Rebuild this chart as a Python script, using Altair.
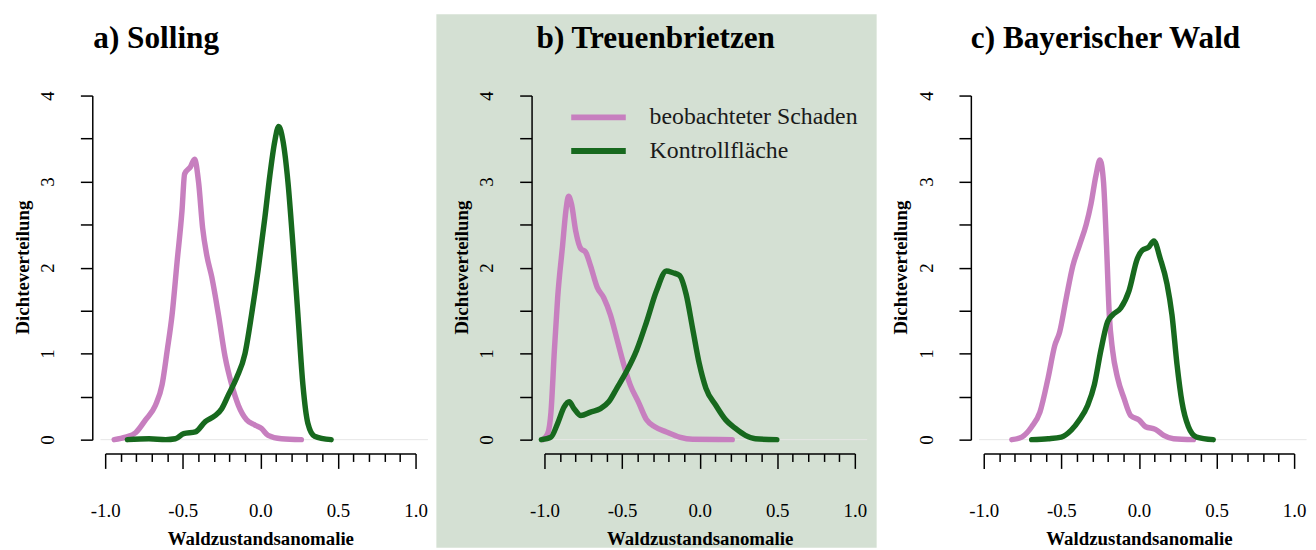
import altair as alt
import pandas as pd

FONT = "Liberation Serif"
PINK = "#c77fbf"
GREEN = "#17691e"
BG_B = "#d4e0d3"

panel_titles = ["a) Solling", "b) Treuenbrietzen", "c) Bayerischer Wald"]
series_names = ["beobachteter Schaden", "Kontrollfläche"]
x_title = "Waldzustandsanomalie"
y_title = "Dichteverteilung"

# a) Solling
a_schaden_x = [-0.942, -0.868, -0.804, -0.74, -0.676, -0.633, -0.60, -0.569, -0.537, -0.505, -0.488,
               -0.451, -0.424, -0.398, -0.372, -0.345, -0.313, -0.27, -0.227, -0.185, -0.142, -0.089,
               -0.035, 0.007, 0.05, 0.136, 0.264]
a_schaden_y = [0.0, 0.03, 0.08, 0.23, 0.40, 0.64, 1.04, 1.45, 2.06, 2.66, 3.09,
               3.17, 3.26, 2.99, 2.46, 2.14, 1.89, 1.45, 0.96, 0.64, 0.40, 0.23,
               0.17, 0.13, 0.05, 0.01, 0.0]
a_kontroll_x = [-0.857, -0.718, -0.61, -0.547, -0.494, -0.419, -0.355, -0.291, -0.249, -0.206, -0.153,
                -0.099, -0.057, -0.014, 0.029, 0.061, 0.093, 0.118, 0.146, 0.178, 0.21, 0.242,
                0.274, 0.306, 0.349, 0.456]
a_kontroll_y = [0.0, 0.01, 0.0, 0.01, 0.07, 0.09, 0.21, 0.28, 0.36, 0.52, 0.72,
                1.0, 1.45, 1.98, 2.58, 3.07, 3.47, 3.64, 3.47, 2.99, 2.26, 1.45,
                0.64, 0.19, 0.04, 0.0]

# b) Treuenbrietzen
b_schaden_x = [-1.01, -0.979, -0.958, -0.936, -0.915, -0.883, -0.862, -0.845, -0.826, -0.798, -0.766,
               -0.735, -0.703, -0.66, -0.618, -0.575, -0.533, -0.49, -0.448, -0.395, -0.342, -0.289,
               -0.214, -0.13, -0.045, 0.21]
b_schaden_y = [0.0, 0.07, 0.32, 1.04, 1.65, 2.26, 2.66, 2.83, 2.74, 2.42, 2.22,
               2.18, 2.02, 1.77, 1.65, 1.45, 1.17, 0.88, 0.64, 0.44, 0.23, 0.15,
               0.09, 0.03, 0.004, 0.0]
b_kontroll_x = [-1.02, -0.958, -0.915, -0.873, -0.841, -0.809, -0.766, -0.703, -0.639, -0.586, -0.533,
                -0.469, -0.406, -0.342, -0.278, -0.214, -0.172, -0.13, -0.087, -0.045, -0.002, 0.04,
                0.104, 0.168, 0.231, 0.295, 0.359, 0.497]
b_kontroll_y = [0.0, 0.03, 0.19, 0.38, 0.44, 0.36, 0.28, 0.32, 0.36, 0.44, 0.60,
                0.80, 1.04, 1.37, 1.73, 1.96, 1.94, 1.91, 1.69, 1.29, 0.88, 0.60,
                0.40, 0.23, 0.13, 0.05, 0.01, 0.0]

# c) Bayerischer Wald
c_schaden_x = [-0.819, -0.755, -0.691, -0.638, -0.585, -0.543, -0.511, -0.468, -0.426, -0.383, -0.34,
               -0.309, -0.277, -0.251, -0.228, -0.209, -0.191, -0.17, -0.138, -0.096, -0.053, 0.0,
               0.043, 0.106, 0.16, 0.223, 0.351]
c_schaden_y = [0.0, 0.03, 0.15, 0.32, 0.72, 1.09, 1.25, 1.65, 2.02, 2.26, 2.5,
               2.74, 3.07, 3.25, 2.99, 2.26, 1.45, 1.04, 0.72, 0.48, 0.28, 0.23,
               0.15, 0.12, 0.05, 0.01, 0.0]
c_kontroll_x = [-0.691, -0.585, -0.5, -0.436, -0.383, -0.33, -0.287, -0.245, -0.202, -0.17, -0.117,
                -0.064, -0.011, 0.021, 0.064, 0.096, 0.138, 0.181, 0.213, 0.245, 0.277, 0.319,
                0.372, 0.479]
c_kontroll_y = [0.0, 0.01, 0.03, 0.11, 0.23, 0.40, 0.64, 1.04, 1.37, 1.45, 1.53,
                1.73, 2.1, 2.2, 2.24, 2.31, 2.1, 1.81, 1.45, 0.88, 0.44, 0.15,
                0.03, 0.0]

y_ticks = [0, 0.5, 1, 1.5, 2, 2.5, 3, 3.5, 4]
x_ticks = [-1.0, -0.9, -0.8, -0.7, -0.6, -0.5, -0.4, -0.3, -0.2, -0.1, 0.0,
           0.1, 0.2, 0.3, 0.4, 0.5, 0.6, 0.7, 0.8, 0.9, 1.0]

MAJOR = "abs(datum.value*2 - round(datum.value*2)) < 0.01"
W, H = 313, 347


def make_df(sx, sy, kx, ky):
    rows = []
    for i, (x, y) in enumerate(zip(sx, sy)):
        rows.append({"x": x, "y": y, "serie": series_names[0], "o": i})
    for i, (x, y) in enumerate(zip(kx, ky)):
        rows.append({"x": x, "y": y, "serie": series_names[1], "o": i})
    return pd.DataFrame(rows)


one = pd.DataFrame({"k": [0]})

x_axis = alt.Axis(
    values=x_ticks, orient="bottom", offset=14,
    tickSize={"condition": {"test": MAJOR, "value": 15}, "value": 8},
    tickWidth=1.5, tickColor="black", domainColor="black", domainWidth=1.5,
    labelExpr=MAJOR + " ? ((datum.value < 0 ? '-' : '') + format(abs(datum.value), '.1f')) : ''",
    labelPadding=34, labelFont=FONT, labelFontSize=19, labelColor="black", labelBaseline="top",
    labelFlush=False, labelOverlap=False,
    title=x_title, titleFont=FONT, titleFontSize=19, titleFontWeight="bold",
    titleColor="black", titlePadding=9, grid=False, zindex=1,
)

y_axis = alt.Axis(
    values=y_ticks, orient="left", offset=13, tickSize=12,
    tickWidth=1.5, tickColor="black", domainColor="black", domainWidth=1.5,
    labelExpr="datum.value % 1 == 0 ? ('' + datum.value) : ''",
    labelAngle=270, labelAlign="center", labelBaseline="middle", labelPadding=33,
    labelFont=FONT, labelFontSize=19, labelColor="black", labelFlush=False, labelOverlap=False,
    title=None, grid=False, zindex=1,
)

color_scale = alt.Scale(domain=series_names, range=[PINK, GREEN])


def panel(title, df, title_dx, shaded=False, legend=False):
    layers = []
    if shaded:
        layers.append(
            alt.Chart(one).mark_rect(color=BG_B).encode(
                x=alt.value(-109), x2=alt.value(335), y=alt.value(-82), y2=alt.value(456)
            )
        )
    layers.append(
        alt.Chart(one).mark_text(align="left", baseline="alphabetic", font=FONT, fontSize=31.5,
                                 fontWeight="bold", color="black").encode(
            x=alt.value(title_dx), y=alt.value(-48), text=alt.value(title)
        )
    )
    layers.append(
        alt.Chart(one).mark_text(align="center", baseline="middle", angle=270, font=FONT,
                                 fontSize=19, fontWeight="bold", color="black").encode(
            x=alt.value(-83), y=alt.value(H / 2), text=alt.value(y_title)
        )
    )
    layers.append(
        alt.Chart(one).mark_rule(color="#e6e6e6", strokeWidth=1).encode(
            x=alt.datum(-1.03, scale=alt.Scale(domain=[-1, 1]), axis=x_axis),
            x2=alt.datum(1.08),
            y=alt.datum(0, scale=alt.Scale(domain=[0, 4]), axis=y_axis),
        )
    )
    layers.append(
        alt.Chart(df).mark_line(strokeWidth=5.5, strokeCap="round", strokeJoin="round",
                                interpolate="monotone").encode(
            x=alt.X("x:Q", scale=alt.Scale(domain=[-1, 1]), axis=x_axis),
            y=alt.Y("y:Q", scale=alt.Scale(domain=[0, 4]), axis=y_axis),
            color=alt.Color("serie:N", scale=color_scale, legend=None),
            order="o:Q",
            detail="serie:N",
        )
    )
    if legend:
        for name, col, yy in [(series_names[0], PINK, 22), (series_names[1], GREEN, 56)]:
            layers.append(
                alt.Chart(one).mark_rule(color=col, strokeWidth=6).encode(
                    x=alt.value(27), x2=alt.value(82), y=alt.value(yy)
                )
            )
            layers.append(
                alt.Chart(one).mark_text(align="left", baseline="middle", font=FONT,
                                         fontSize=24, color="#1a1a1a").encode(
                    x=alt.value(106), y=alt.value(yy), text=alt.value(name)
                )
            )
    return alt.layer(*layers).properties(width=W, height=H)


pa = panel(panel_titles[0], make_df(a_schaden_x, a_schaden_y, a_kontroll_x, a_kontroll_y), -12)
pb = panel(panel_titles[1], make_df(b_schaden_x, b_schaden_y, b_kontroll_x, b_kontroll_y), -8,
           shaded=True, legend=True)
pc = panel(panel_titles[2], make_df(c_schaden_x, c_schaden_y, c_kontroll_x, c_kontroll_y), -13)

chart = alt.hconcat(pa, pb, pc, spacing=130, bounds="flush").properties(
    padding={"left": 6, "top": 4, "right": 0, "bottom": 0},
    background="white",
).configure_view(stroke=None)

chart.save("out.html", embed_options={"renderer": "svg", "actions": False})
